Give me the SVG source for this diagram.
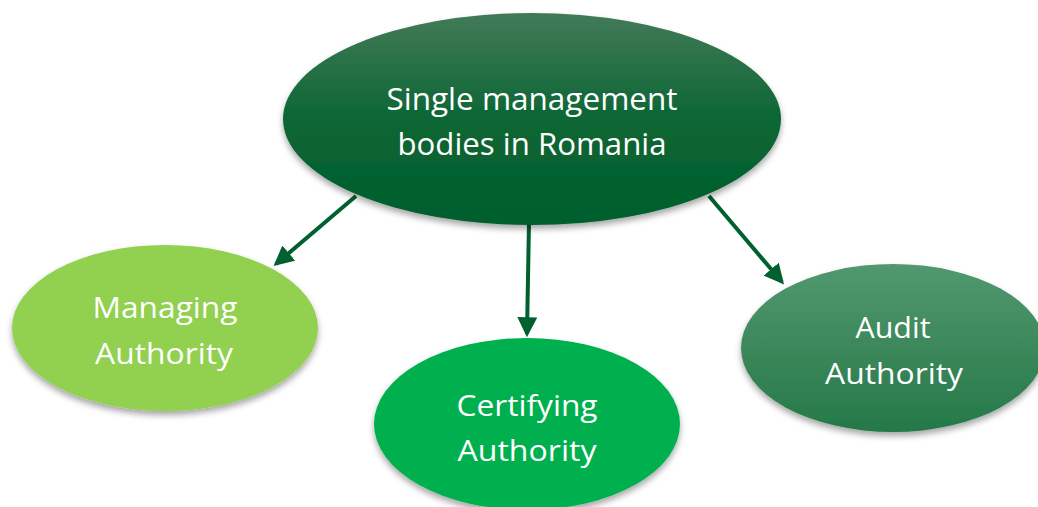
<svg xmlns="http://www.w3.org/2000/svg" width="1038" height="507" viewBox="0 0 1038 507">
<defs>
<linearGradient id="gTop" x1="0" y1="0" x2="0" y2="1">
<stop offset="0" stop-color="#437a58"/>
<stop offset="0.5" stop-color="#0b6634"/>
<stop offset="1" stop-color="#005e2c"/>
</linearGradient>
<linearGradient id="gAudit" x1="0" y1="0" x2="0" y2="1">
<stop offset="0" stop-color="#52986f"/>
<stop offset="1" stop-color="#257848"/>
</linearGradient>
<filter id="sh" x="-10%" y="-10%" width="120%" height="130%">
<feDropShadow dx="0" dy="4" stdDeviation="3" flood-color="#000" flood-opacity="0.35"/>
</filter>
<marker id="ah" markerWidth="5" markerHeight="5" refX="4.2" refY="2.5" orient="auto" markerUnits="strokeWidth">
<path d="M0,0 L5,2.5 L0,5 Z" fill="#00602f"/>
</marker>
</defs>
<style>
.t{font-family:"Open Sans","Noto Sans","Liberation Sans",sans-serif;fill:#fff;text-anchor:middle}
.big{font-size:31px}
.med{font-size:30px}
.c{stroke:#00602f;stroke-width:4;fill:none;marker-end:url(#ah)}
</style>
<g id="connectors">
<line class="c" x1="356" y1="196" x2="276" y2="264"/>
<line class="c" x1="529" y1="222" x2="527" y2="334"/>
<line class="c" x1="709" y1="196" x2="782" y2="282"/>
</g>
<g id="root">
<ellipse cx="532" cy="119" rx="249" ry="106" fill="url(#gTop)" filter="url(#sh)"/>
<text class="t big" x="532" y="110" textLength="291" lengthAdjust="spacingAndGlyphs">Single management</text>
<text class="t big" x="532" y="155" textLength="269" lengthAdjust="spacingAndGlyphs">bodies in Romania</text>
</g>
<g id="managing">
<ellipse cx="165" cy="328" rx="153" ry="83" fill="#92d050" filter="url(#sh)"/>
<text class="t med" x="165" y="318" textLength="145" lengthAdjust="spacingAndGlyphs">Managing</text>
<text class="t med" x="164" y="364" textLength="138" lengthAdjust="spacingAndGlyphs">Authority</text>
</g>
<g id="certifying">
<ellipse cx="527" cy="424" rx="153" ry="86" fill="#00b050" filter="url(#sh)"/>
<text class="t med" x="527" y="416" textLength="141" lengthAdjust="spacingAndGlyphs">Certifying</text>
<text class="t med" x="527" y="461" textLength="139" lengthAdjust="spacingAndGlyphs">Authority</text>
</g>
<g id="audit">
<ellipse cx="893" cy="348" rx="152" ry="84" fill="url(#gAudit)" filter="url(#sh)"/>
<text class="t med" x="893" y="338" textLength="75" lengthAdjust="spacingAndGlyphs">Audit</text>
<text class="t med" x="894" y="384" textLength="138" lengthAdjust="spacingAndGlyphs">Authority</text>
</g>
</svg>
